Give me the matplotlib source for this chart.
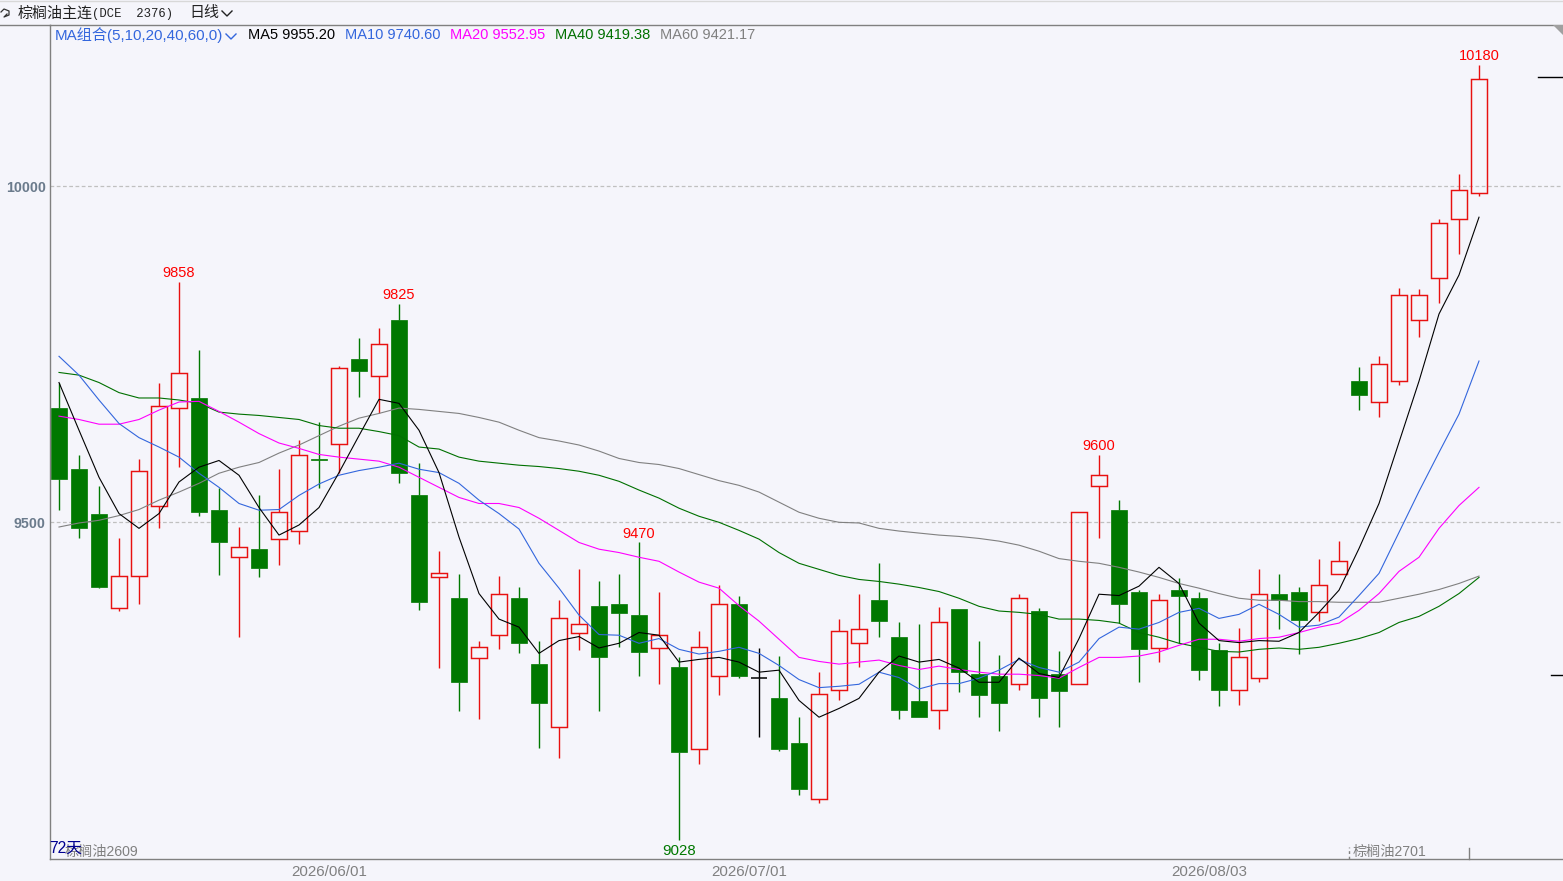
import matplotlib
matplotlib.use('Agg')
import matplotlib.pyplot as plt
from matplotlib.lines import Line2D
from matplotlib.patches import Polygon
import numpy as np

W, H = 1563, 881
BG = '#f5f5fb'
RED = '#e81010'
GREEN = '#007800'
FONT = ['Liberation Sans', 'Noto Sans CJK SC']

highs = [9707,9600,9554,9476,9594,9707,9858,9756,9551,9493,9540,9579,9622,9650,9732,9774,9789,9825,
         9588,9457,9423,9324,9420,9403,9324,9385,9430,9412,9423,9470,9396,9299,9339,9406,9391,9313,
         9301,9211,9278,9356,9394,9439,9351,9348,9374,9371,9324,9302,9394,9372,9308,9515,9600,9533,
         9400,9393,9417,9396,9321,9342,9430,9423,9403,9446,9472,9731,9748,9848,9847,9951,10019,10180]
lows = [9518,9476,9402,9368,9378,9491,9583,9509,9421,9330,9418,9436,9467,9551,9573,9686,9662,9558,
        9369,9283,9219,9207,9311,9305,9164,9149,9310,9219,9314,9271,9259,9028,9141,9243,9268,9180,
        9159,9094,9082,9235,9284,9329,9208,9210,9192,9247,9210,9189,9251,9210,9195,9260,9476,9350,
        9262,9292,9320,9265,9226,9228,9262,9341,9304,9353,9423,9667,9656,9704,9775,9826,9899,9985]
opens = [9670,9580,9512,9372,9420,9524,9670,9685,9518,9449,9460,9475,9487,9594,9616,9743,9717,9801,
         9540,9418,9388,9298,9333,9388,9289,9196,9336,9375,9378,9362,9313,9284,9162,9272,9379,9268,
         9238,9171,9089,9251,9320,9384,9330,9234,9220,9371,9275,9271,9260,9368,9275,9260,9554,9518,
         9397,9313,9400,9388,9310,9250,9268,9394,9396,9366,9423,9710,9679,9711,9801,9863,9951,9990]
closes = [9564,9491,9403,9420,9576,9673,9722,9516,9470,9464,9432,9516,9600,9592,9729,9725,9766,9573,
          9381,9424,9263,9315,9393,9320,9231,9357,9348,9299,9365,9307,9333,9158,9315,9379,9271,9268,
          9162,9103,9244,9339,9341,9353,9220,9210,9351,9277,9243,9231,9388,9238,9249,9515,9570,9378,
          9311,9385,9391,9280,9251,9299,9394,9384,9354,9406,9442,9690,9735,9838,9838,9946,9994,10160]

ma5 = [9708,9637,9567,9513,9491,9513,9560,9582,9592,9570,9522,9481,9496,9522,9574,9629,9683,9677,
       9637,9574,9478,9394,9356,9344,9305,9324,9330,9313,9320,9336,9332,9292,9296,9299,9292,9277,
       9280,9235,9210,9223,9238,9277,9301,9292,9296,9283,9262,9262,9298,9275,9269,9327,9393,9391,
       9405,9433,9409,9350,9324,9321,9324,9323,9336,9366,9399,9461,9528,9619,9710,9810,9868,9954]
ma10 = [9747,9719,9682,9647,9626,9612,9597,9573,9552,9528,9518,9519,9540,9557,9570,9577,9582,9588,
        9579,9574,9558,9533,9513,9490,9439,9402,9362,9333,9332,9320,9327,9311,9304,9308,9314,9305,
        9287,9266,9254,9256,9259,9277,9269,9252,9260,9260,9268,9280,9296,9284,9277,9292,9327,9344,
        9341,9351,9366,9372,9357,9363,9378,9363,9344,9347,9359,9391,9424,9485,9546,9604,9661,9740]
ma20 = [9658,9653,9646,9646,9653,9667,9679,9680,9665,9649,9632,9618,9610,9601,9597,9594,9591,9582,
        9567,9552,9537,9528,9528,9522,9506,9488,9470,9460,9455,9448,9442,9426,9411,9402,9376,9353,
        9326,9299,9293,9289,9292,9295,9287,9281,9286,9281,9277,9274,9274,9272,9268,9284,9299,9299,
        9301,9307,9317,9326,9326,9323,9327,9329,9336,9344,9350,9369,9394,9427,9448,9491,9525,9552]
ma40 = [9723,9719,9708,9693,9685,9685,9682,9677,9664,9661,9659,9656,9653,9644,9640,9640,9635,9629,
        9612,9609,9597,9591,9588,9585,9583,9580,9576,9570,9561,9548,9536,9521,9509,9500,9488,9475,
        9455,9439,9430,9421,9415,9412,9408,9403,9397,9387,9375,9368,9366,9363,9356,9356,9354,9350,
        9336,9329,9320,9314,9308,9307,9311,9313,9311,9314,9320,9327,9336,9351,9360,9375,9394,9418]
ma60 = [9493,9499,9503,9510,9519,9533,9545,9558,9573,9582,9589,9603,9615,9629,9643,9655,9662,9670,
        9668,9665,9662,9656,9649,9637,9626,9621,9615,9606,9595,9589,9586,9580,9571,9562,9555,9545,
        9530,9515,9506,9500,9499,9491,9487,9484,9481,9479,9476,9472,9466,9457,9446,9442,9439,9433,
        9426,9418,9409,9402,9394,9387,9384,9384,9382,9382,9381,9381,9381,9387,9393,9400,9409,9420]

ma_series = [(ma60, '#808080'), (ma40, '#007000'), (ma20, '#ff00ff'), (ma10, '#3366dd'), (ma5, '#000000')]

# index of candle, value
peak_labels = [(6, 9858), (17, 9825), (29, 9470), (52, 9600), (71, 10180)]
trough_labels = [(31, 9028)]

date_pos = [13.5, 34.5, 57.5]
date_labels = ['2026/06/01', '2026/07/01', '2026/08/03']
price_ticks = [9500, 10000]

legend_parts = [('MA组合(5,10,20,40,60,0)', '#3366dd', 55, 10.9), ('MA5 9955.20', '#000000', 248, 10.5),
                ('MA10 9740.60', '#3366dd', 345, 10.5), ('MA20 9552.95', '#ff00ff', 450, 10.5),
                ('MA40 9419.38', '#007000', 555, 10.5), ('MA60 9421.17', '#808080', 660, 10.5)]


def fy(y):
    return 1 - y / H


fig = plt.figure(figsize=(W / 100, H / 100), dpi=100, facecolor=BG)
ax = fig.add_axes([50 / W, 1 - 859 / H, (W - 50) / W, (859 - 25) / H], facecolor=BG)
ax.set_xlim(-0.45, 75.2)
ax.set_ylim(8999, 10240)

xs = np.arange(len(opens))
for i in xs:
    o, c, h, l = opens[i], closes[i], highs[i], lows[i]
    color = RED if c > o else GREEN if c < o else '#000000'
    top, bot = max(o, c), min(o, c)
    # wicks stop at the body, up candles stay hollow
    ax.vlines(i, top, h, color=color, lw=1.0, zorder=2)
    ax.vlines(i, l, bot, color=color, lw=1.0, zorder=2)
    if c > o:
        ax.bar(i, top - bot, bottom=bot, width=0.76, facecolor='none', edgecolor=color, lw=1.05, zorder=2)
    elif c < o:
        ax.bar(i, top - bot, bottom=bot, width=0.82, facecolor=color, edgecolor=color, lw=0.5, zorder=2)
    else:
        ax.hlines(o, i - 0.42, i + 0.42, color=color, lw=1.1, zorder=2)

for values, color in ma_series:
    ax.plot(xs, values, color=color, lw=0.8, zorder=3)

for p in price_ticks:
    ax.axhline(p, color='#c0c0c0', lw=0.9, ls=(0, (3, 2)), zorder=1)

for i, v in peak_labels:
    ax.annotate(str(v), (i, highs[i]), xytext=(0, 6.4), textcoords='offset points', ha='center', va='center',
                color='#ff0000', fontsize=10.5, family=FONT, zorder=5)
for i, v in trough_labels:
    ax.annotate(str(v), (i, lows[i]), xytext=(0, -8.5), textcoords='offset points', ha='center', va='center',
                color=GREEN, fontsize=10.8, family=FONT, zorder=5)

ax.set_yticks(price_ticks)
ax.set_yticklabels([str(p) for p in price_ticks], color='#6b7b8c', fontsize=10.3, family=FONT, fontweight='bold')
ax.set_xticks(date_pos)
ax.set_xticklabels(date_labels, color='#808080', fontsize=10.9, family=FONT)
ax.tick_params(axis='both', length=0, pad=3)
ax.tick_params(axis='x', pad=4)
ax.spines['right'].set_visible(False)
for s in ['top', 'left', 'bottom']:
    ax.spines[s].set_color('#808080')
    ax.spines[s].set_linewidth(1.0)

# header row
fig.add_artist(Line2D([0, 50 / W], [fy(25), fy(25)], color='#808080', lw=1.0))
fig.add_artist(Line2D([0, 1], [fy(0.5), fy(0.5)], color='#d8d8d8', lw=1.0))
fig.add_artist(Line2D([1 / W, 4 / W, 9 / W, 9 / W, 4 / W, 7 / W], [fy(12), fy(9), fy(11), fy(15), fy(17), fy(14)],
                      color='#333333', lw=0.9))
fig.text(18 / W, fy(13.5), '棕榈油主连', family=FONT, fontsize=10.8, color='#222222', va='center')
fig.text(92 / W, fy(13.5), '(DCE  2376)', family=['Liberation Mono'], fontsize=8.8, color='#222222', va='center')
fig.text(189 / W, fy(13.5), '日线', family=FONT, fontsize=10.8, color='#222222', va='center')
fig.add_artist(Line2D([222 / W, 227 / W, 232 / W], [fy(11), fy(16), fy(11)], color='#222222', lw=1.0))

for label, color, x, size in legend_parts:
    fig.text(x / W, fy(35), label, family=FONT, fontsize=size, color=color, va='center')
fig.add_artist(Line2D([226 / W, 231 / W, 236 / W], [fy(34), fy(39), fy(34)], color='#3366dd', lw=1.0))

# bottom left and right contract notes
fig.text(65 / W, fy(852), '棕榈油2609', family=FONT, fontsize=10.2, color='#808080', va='center')
fig.text(1353 / W, fy(852), '棕榈油2701', family=FONT, fontsize=10.2, color='#808080', va='center')
fig.text(49 / W, fy(848), '72天', family=FONT, fontsize=11.3, color='#000090', va='center')

# contract switch marks on the time axis
fig.add_artist(Line2D([1349 / W, 1349 / W], [fy(859), fy(847)], color='#808080', lw=1.0, ls=(0, (2, 2))))
fig.add_artist(Line2D([1469 / W, 1469 / W], [fy(859), fy(848)], color='#808080', lw=1.0))

# price markers at the right edge and corner flag
fig.add_artist(Line2D([1538 / W, 1563 / W], [fy(77), fy(77)], color='#000000', lw=1.0))
fig.add_artist(Line2D([1551 / W, 1563 / W], [fy(675), fy(675)], color='#000000', lw=1.0))
fig.add_artist(Polygon([[1553 / W, fy(25)], [1563 / W, fy(25)], [1563 / W, fy(35)]], closed=True,
                       transform=fig.transFigure, facecolor='#a0a0a0', edgecolor='none'))

fig.savefig('out.png', dpi=100, facecolor=BG)
